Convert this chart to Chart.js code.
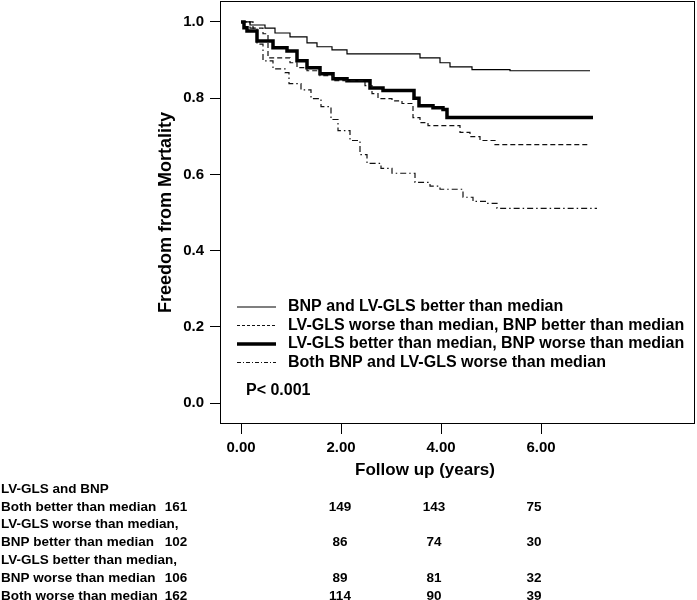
<!DOCTYPE html>
<html>
<head>
<meta charset="utf-8">
<script src="https://cdn.jsdelivr.net/npm/chart.js@4.4.0/dist/chart.umd.min.js"></script>
<style>
  html, body { margin: 0; padding: 0; background: #fff; }
  canvas { display: block; }
</style>
</head>
<body>
<canvas id="km" width="697" height="600"></canvas>
<script>
// Kaplan-Meier curves (time in years, survival fraction after each drop)
const bothBetterTime = [0, 0.18, 0.48, 0.68, 0.98, 1.32, 1.52, 1.82, 2.12, 3.58, 3.98, 4.18, 4.62, 5.38, 6.98];
const bothBetterSurv = [1, 0.992, 0.984, 0.971, 0.961, 0.945, 0.935, 0.927, 0.916, 0.906, 0.893, 0.882, 0.875, 0.872, 0.872];

const glsWorseTime = [0, 0.24, 0.44, 0.54, 0.98, 1.12, 1.32, 1.58, 1.84, 2.48, 2.62, 2.74, 3.02, 3.22, 3.44, 3.58, 3.74, 4.38, 4.58, 4.78, 5.08, 6.98];
const glsWorseSurv = [1, 0.984, 0.969, 0.906, 0.893, 0.880, 0.872, 0.859, 0.846, 0.833, 0.812, 0.799, 0.793, 0.786, 0.749, 0.736, 0.728, 0.710, 0.699, 0.689, 0.678, 0.678];

const bnpWorseTime = [0, 0.06, 0.12, 0.32, 0.64, 0.92, 1.12, 1.32, 1.58, 1.84, 2.12, 2.58, 2.84, 3.46, 3.56, 3.84, 4.04, 4.12, 7.04];
const bnpWorseSurv = [1, 0.985, 0.976, 0.950, 0.932, 0.924, 0.898, 0.880, 0.864, 0.851, 0.846, 0.827, 0.820, 0.800, 0.780, 0.775, 0.770, 0.749, 0.749];

const bothWorseTime = [0, 0.18, 0.32, 0.44, 0.64, 0.88, 0.96, 1.2, 1.4, 1.6, 1.8, 1.94, 2.18, 2.38, 2.52, 2.8, 3.02, 3.48, 3.78, 3.98, 4.44, 4.64, 4.92, 5.12, 7.12];
const bothWorseSurv = [1, 0.984, 0.942, 0.898, 0.877, 0.867, 0.838, 0.822, 0.799, 0.778, 0.744, 0.715, 0.689, 0.652, 0.629, 0.616, 0.603, 0.579, 0.569, 0.561, 0.540, 0.529, 0.524, 0.511, 0.511];

const seriesLabels = [
  "BNP and LV-GLS better than median",
  "LV-GLS worse than median, BNP better than median",
  "LV-GLS better than median, BNP worse than median",
  "Both BNP and LV-GLS worse than median",
];

const xTicks = [0, 2, 4, 6];
const yTicks = [0, 0.2, 0.4, 0.6, 0.8, 1.0];

// numbers at risk
const riskRowLabels = [
  "LV-GLS and BNP",
  "Both better than median",
  "LV-GLS worse than median,",
  "BNP better than median",
  "LV-GLS better than median,",
  "BNP worse than median",
  "Both worse than median",
];
const atRiskBothBetter = [161, 149, 143, 75];
const atRiskGlsWorse = [102, 86, 74, 30];
const atRiskBnpWorse = [106, 89, 81, 32];
const atRiskBothWorse = [162, 114, 90, 39];
const riskRows = [null, atRiskBothBetter, null, atRiskGlsWorse, null, atRiskBnpWorse, atRiskBothWorse];

const FONT = "Arial, 'Liberation Sans', sans-serif";

function toPoints(t, s) {
  return t.map((x, i) => ({ x: x, y: s[i] }));
}

const styles = [
  { borderColor: "#000", borderWidth: 1.2, borderDash: [] },
  { borderColor: "#111", borderWidth: 1.2, borderDash: [5, 3] },
  { borderColor: "#000", borderWidth: 3.5, borderDash: [] },
  { borderColor: "#111", borderWidth: 1.2, borderDash: [6, 3, 1.5, 3] },
];
const legendDash = [[], [3, 2], [], [4, 2, 1, 2]];

const series = [
  toPoints(bothBetterTime, bothBetterSurv),
  toPoints(glsWorseTime, glsWorseSurv),
  toPoints(bnpWorseTime, bnpWorseSurv),
  toPoints(bothWorseTime, bothWorseSurv),
];

const extras = {
  id: "extras",
  afterDraw(chart) {
    const ctx = chart.ctx;
    const a = chart.chartArea;
    ctx.save();
    // frame
    ctx.strokeStyle = "#000";
    ctx.lineWidth = 1;
    ctx.setLineDash([]);
    ctx.strokeRect(Math.round(a.left) + 0.5, Math.round(a.top) + 0.5,
      Math.round(a.right - a.left) - 1, Math.round(a.bottom - a.top) - 1);

    // legend
    ctx.font = "bold 16px " + FONT;
    ctx.fillStyle = "#000";
    ctx.textBaseline = "middle";
    ctx.textAlign = "left";
    const legY = [307, 325.5, 344, 362.5];
    chart.data.datasets.forEach((ds, i) => {
      ctx.beginPath();
      ctx.strokeStyle = ds.borderColor;
      ctx.lineWidth = ds.borderWidth;
      ctx.setLineDash(legendDash[i]);
      ctx.moveTo(237, legY[i]);
      ctx.lineTo(276, legY[i]);
      ctx.stroke();
      ctx.setLineDash([]);
      ctx.fillText(ds.label, 288, legY[i]);
    });
    ctx.fillText("P< 0.001", 246, 391);

    // x title
    ctx.font = "bold 17px " + FONT;
    ctx.textAlign = "center";
    ctx.fillText("Follow up (years)", 425, 470);

    // at-risk table
    ctx.font = "bold 13.5px " + FONT;
    const colX = [176, 340, 434, 534];
    riskRowLabels.forEach((lab, r) => {
      const y = 489 + r * 17.8;
      ctx.textAlign = "left";
      ctx.fillText(lab, 1, y);
      const row = riskRows[r];
      if (row) {
        ctx.textAlign = "center";
        row.forEach((n, c) => ctx.fillText(String(n), colX[c], y));
      }
    });
    ctx.restore();
  },
};

new Chart(document.getElementById("km").getContext("2d"), {
  type: "line",
  data: {
    datasets: series.map((pts, i) => ({
      label: seriesLabels[i],
      data: pts,
      stepped: "before",
      borderColor: styles[i].borderColor,
      borderWidth: styles[i].borderWidth,
      borderDash: styles[i].borderDash,
      pointRadius: 0,
      fill: false,
      tension: 0,
    })),
  },
  options: {
    responsive: false,
    animation: false,
    layout: { padding: { left: 0, top: 1, right: 2, bottom: 0 } },
    plugins: { legend: { display: false }, tooltip: { enabled: false } },
    scales: {
      x: {
        type: "linear",
        min: -0.42,
        max: 9.08,
        afterBuildTicks: (s) => { s.ticks = xTicks.map((v) => ({ value: v })); },
        afterFit: (s) => { s.height = 176; s.paddingLeft = 0; s.paddingRight = 0; },
        border: { display: false },
        grid: { drawOnChartArea: false, drawTicks: true, tickLength: 10, color: "#000" },
        ticks: {
          padding: 5,
          color: "#000",
          font: { family: FONT, size: 15, weight: "bold" },
          callback: (v) => Number(v).toFixed(2),
        },
      },
      y: {
        type: "linear",
        min: -0.055,
        max: 1.055,
        afterBuildTicks: (s) => { s.ticks = yTicks.map((v) => ({ value: v })); },
        afterFit: (s) => { s.width = 220; s.paddingTop = 0; s.paddingBottom = 0; },
        border: { display: false },
        grid: { drawOnChartArea: false, drawTicks: true, tickLength: 10, color: "#000" },
        title: {
          display: true,
          text: "Freedom from Mortality",
          color: "#000",
          font: { family: FONT, size: 18, weight: "bold" },
          padding: { top: 155, bottom: 0 },
        },
        ticks: {
          padding: 6,
          color: "#000",
          font: { family: FONT, size: 15, weight: "bold" },
          callback: (v) => Number(v).toFixed(1),
        },
      },
    },
  },
  plugins: [extras],
});
</script>
</body>
</html>
